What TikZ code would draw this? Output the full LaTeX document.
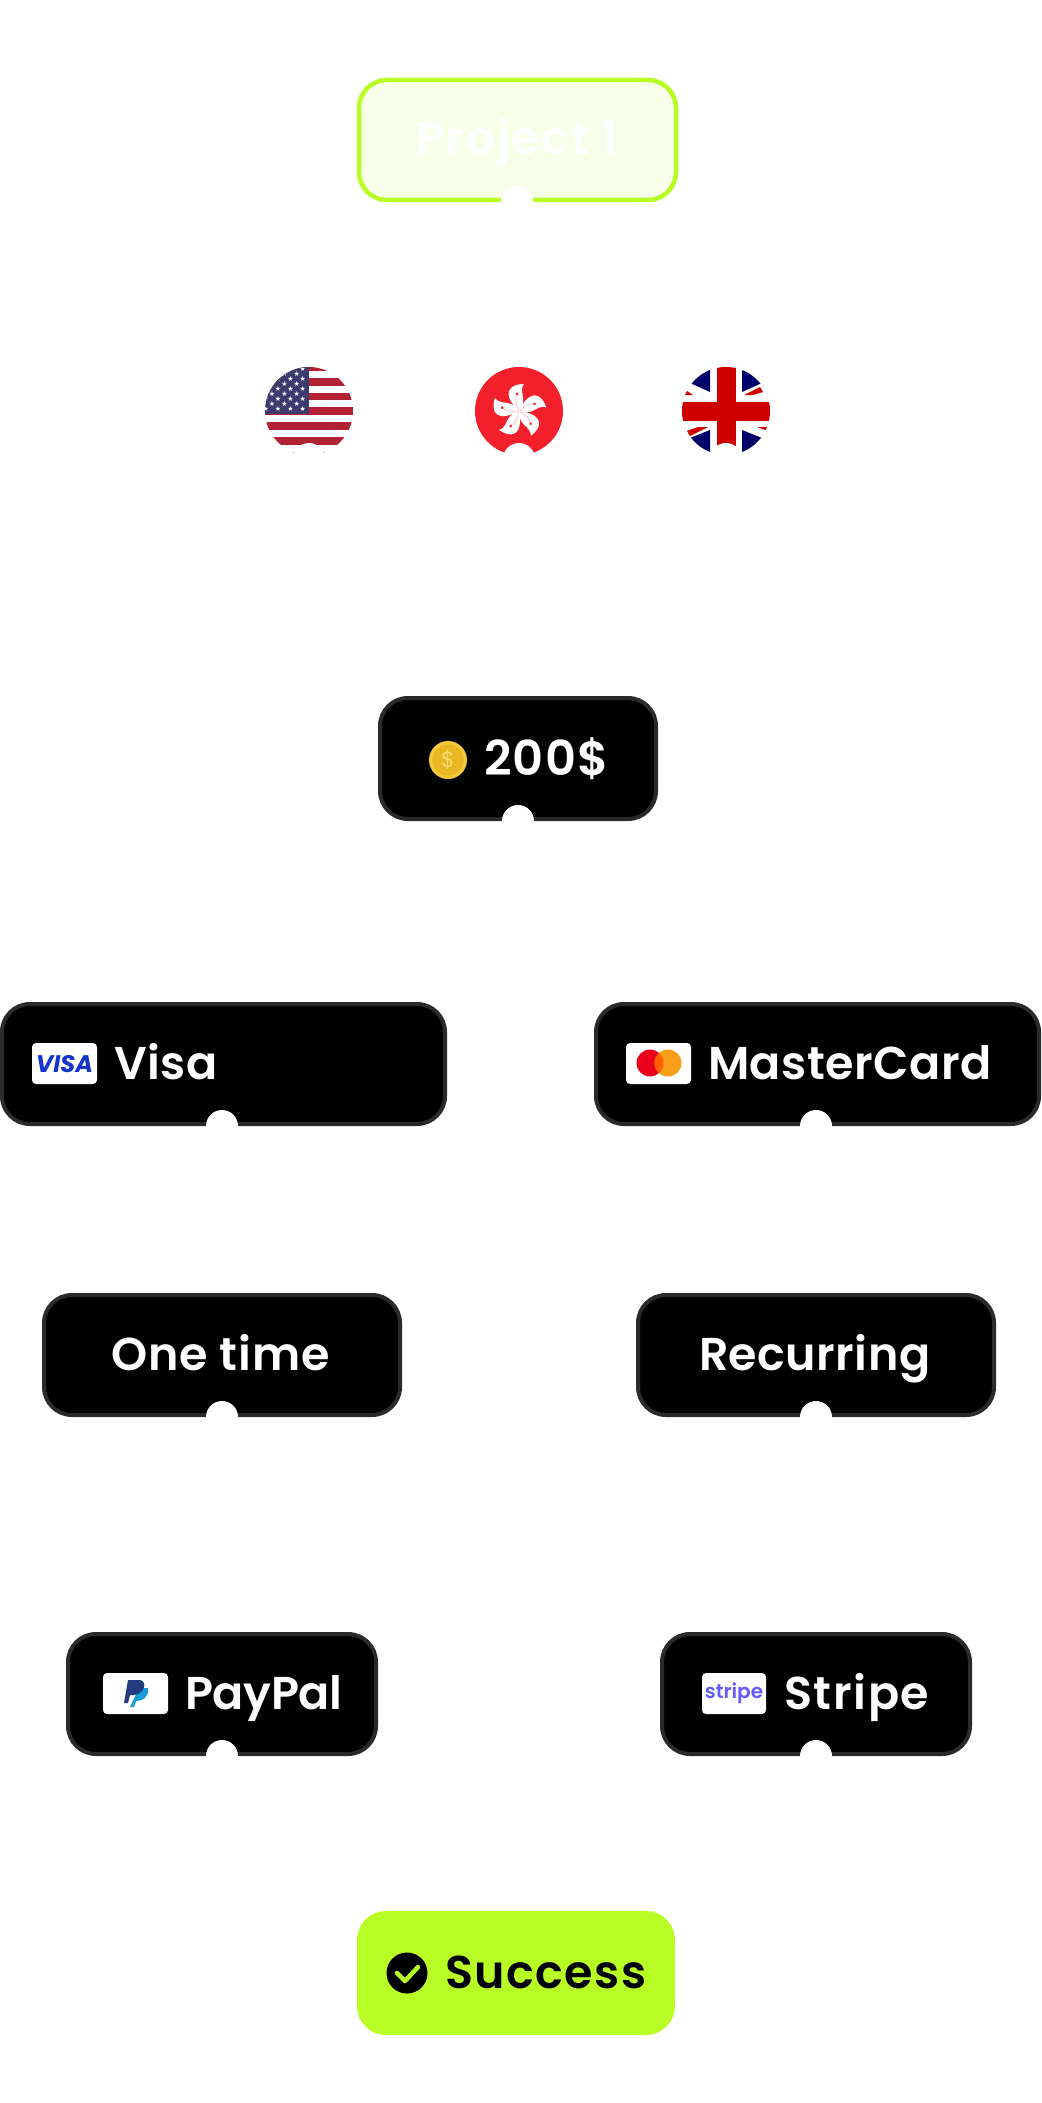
\documentclass[tikz,border=0pt]{standalone}
\usepackage{fontspec}
\setmainfont{Poppins}
\newfontfamily\labelfont{Poppins}[UprightFont=* SemiBold,BoldFont=* Bold]
\newfontfamily\symfont{DejaVu Sans}
\newcommand\spaced[2]{{\addfontfeatures{LetterSpace=#1}#2}}
\definecolor{lime}{HTML}{B9FD26}
\definecolor{limepale}{HTML}{F7FFE9}
\definecolor{edgegrey}{HTML}{2A2A2A}
\definecolor{flagred}{HTML}{B22234}
\definecolor{flagblue}{HTML}{3C3B6E}
\definecolor{hkred}{HTML}{F1202B}
\definecolor{ukblue}{HTML}{00006A}
\definecolor{ukred}{HTML}{CF0000}
\definecolor{coin}{HTML}{E9B625}
\definecolor{coinedge}{HTML}{F5C93A}
\definecolor{coinmark}{HTML}{F8DD72}
\definecolor{visablue}{HTML}{1434CB}
\definecolor{mcred}{HTML}{EB001B}
\definecolor{mcorange}{HTML}{F79E1B}
\definecolor{mcmid}{HTML}{FF5F00}
\definecolor{ppdark}{HTML}{253B80}
\definecolor{pplight}{HTML}{179BD7}
\definecolor{stripeblue}{HTML}{635BFF}
\tikzset{
  darkbox/.style={draw=edgegrey,line width=4pt,fill=black,rounded corners=28pt},
  limebox/.style={draw=lime,line width=4.5pt,fill=limepale,rounded corners=28pt},
  notch/.style={fill=white,draw=none},
  cardicon/.style={fill=white,rounded corners=4pt},
  lab/.style={font=\labelfont\fontsize{46}{46}\selectfont,text=white,anchor=base west,inner sep=0pt,outer sep=0pt},
}
\begin{document}
\begin{tikzpicture}[x=1pt,y=-1pt]
\useasboundingbox[fill=white] (0,0) rectangle (1041,2103);
% ---- Project 1
\draw[limebox] (359,80) rectangle (676,200);
\fill[notch] (517,202) circle (16);
\node[lab,text=white] (project) at (416,155) {\spaced{3.8}{Project 1}};
% ---- US flag
\begin{scope}
  \clip (309,411) circle (44);
  \fill[white] (260,360) rectangle (360,460);
  \foreach \yy in {363,378,392.5,407,422,437}{\fill[flagred] (260,\yy) rectangle (360,\yy+7.5);}
  \fill[flagblue] (260,360) rectangle (309,414);
  \foreach \row/\px in {0/0,1/6,2/0,3/6,4/0,5/6,6/0,7/6,8/0}{
    \foreach \col in {0,...,4}{
      \node[inner sep=0pt,text=white,font=\symfont\fontsize{7}{7}\selectfont] (usstar\row\col) at ({302.7-\col*12.3-\px},{368.5+\row*5.07}) {★};
    }
  }
\end{scope}
\fill[notch] (309,459) circle (16);
\fill[flagred!55] (292.5,451.5) rectangle (294,453);
\fill[flagred!55] (322.5,451.5) rectangle (324,453);
% ---- Hong Kong flag
\begin{scope}
  \clip (519,411) circle (44);
  \fill[hkred] (470,360) rectangle (570,460);
  \foreach \a in {0,72,144,216,288}{
    \begin{scope}[shift={(519,411)},rotate=\a]
      \fill[white] (0,0) .. controls (-5,-5) and (-12,-12) .. (-10,-20) .. controls (-8,-25) and (-2,-27) .. (5,-27) .. controls (2,-24) and (3,-18) .. (4,-14) .. controls (5,-8) and (3,-3) .. (0,0);
      \draw[hkred!45,line width=.4pt] (0,-1) .. controls (-4,-8) and (-4,-12) .. (-2,-17);
      \fill[hkred] (-2,-17) circle (1.5);
    \end{scope}
  }
\end{scope}
\fill[notch] (519,459) circle (16);
% ---- UK flag
\begin{scope}
  \clip (726,411) circle (44);
  \fill[white] (680,360) rectangle (775,460);
  \fill[ukblue] (710,366) -- (710,392) -- (690,383) -- (690,366) -- cycle;
  \fill[ukblue] (742,366) -- (742,392) -- (762,383) -- (762,366) -- cycle;
  \fill[ukblue] (710,456) -- (710,430) -- (690,438) -- (690,456) -- cycle;
  \fill[ukblue] (742,456) -- (742,430) -- (762,438) -- (762,456) -- cycle;
  \fill[ukred] (685,395) -- (693,395) -- (687,391) -- cycle;
  \fill[ukred] (744,395) -- (760,387) -- (763,392) -- (753,395) -- cycle;
  \fill[ukred] (687,431) -- (698,427) -- (708,427) -- (690,436) -- cycle;
  \fill[ukred] (757,427) -- (771,427) -- (771,432) -- cycle;
  \fill[ukred] (717,360) rectangle (736,460);
  \fill[ukred] (675,402) rectangle (775,421);
\end{scope}
\fill[notch] (726,459) circle (16);
\fill[white] (260,453) rectangle (290,462);
\fill[white] (295,453) rectangle (320,462);
\fill[white] (325,453) rectangle (780,462);
% ---- 200$
\draw[darkbox] (380,698) rectangle (656,819);
\fill[notch] (518,821) circle (16);
\fill[coinedge] (448,760) circle (19);
\fill[coin] (448,760) circle (15.5);
\node[inner sep=0pt,text=coinmark,font=\fontsize{22}{22}\selectfont] (coinmark) at (448,760) {\$};
\node[lab,font=\labelfont\fontsize{48}{48}\selectfont] (amount) at (484,775) {\spaced{3}{200\$}};
% ---- Visa
\draw[darkbox] (2,1004) rectangle (445,1124);
\fill[notch] (222,1126) circle (16);
\fill[cardicon] (32,1043) rectangle (97,1084);
\node[inner sep=0pt,text=visablue,font=\rmfamily\bfseries\itshape\fontsize{24}{24}\selectfont] (visalogo) at (64.5,1064) {VISA};
\node[lab] (visa) at (114,1079) {\spaced{1.5}{Visa}};
% ---- MasterCard
\draw[darkbox] (596,1004) rectangle (1039,1124);
\fill[notch] (816,1126) circle (16);
\fill[cardicon] (626,1043) rectangle (691,1084);
\fill[mcred] (650,1063) circle (13.5);
\fill[mcorange] (668,1063) circle (13.5);
\begin{scope}
  \clip (650,1063) circle (13.5);
  \fill[mcmid] (668,1063) circle (13.5);
\end{scope}
\node[lab] (mastercard) at (708,1079) {\spaced{1.2}{MasterCard}};
% ---- One time / Recurring
\draw[darkbox] (44,1295) rectangle (400,1415);
\fill[notch] (222,1417) circle (16);
\node[lab] (onetime) at (111,1370) {\spaced{2}{One time}};
\draw[darkbox] (638,1295) rectangle (994,1415);
\fill[notch] (816,1417) circle (16);
\node[lab] (recurring) at (699,1370) {\spaced{1}{Recurring}};
% ---- PayPal
\draw[darkbox] (68,1634) rectangle (376,1754);
\fill[notch] (222,1756) circle (16);
\fill[cardicon] (103,1673) rectangle (168,1714);
\fill[pplight] (139,1688) -- (148,1688) .. controls (149,1697) and (143,1701) .. (136,1701) -- (134,1707) -- (130,1707) -- cycle;
\fill[ppdark] (128,1680) -- (140,1680) .. controls (147,1681) and (146,1693) .. (134,1695) -- (130,1695) -- (128,1703) -- (124,1703) -- cycle;
\node[lab] (paypal) at (185,1709) {\spaced{-0.7}{PayPal}};
% ---- Stripe
\draw[darkbox] (662,1634) rectangle (970,1754);
\fill[notch] (816,1756) circle (16);
\fill[cardicon] (702,1673) rectangle (766,1714);
\node[inner sep=0pt,text=stripeblue,font=\labelfont\fontsize{20}{20}\selectfont] (stripelogo) at (734,1693) {stripe};
\node[lab] (stripe) at (784,1709) {\spaced{3.7}{Stripe}};
% ---- Success
\fill[lime,rounded corners=29pt] (357,1911) rectangle (675,2035);
\fill[black] (407,1973) circle (20.5);
\draw[lime,line width=4.5pt,line cap=round,line join=round] (397,1973) -- (405,1981) -- (418,1967);
\node[lab,text=black] (success) at (445,1988) {\spaced{3.3}{Success}};
\end{tikzpicture}
\end{document}
